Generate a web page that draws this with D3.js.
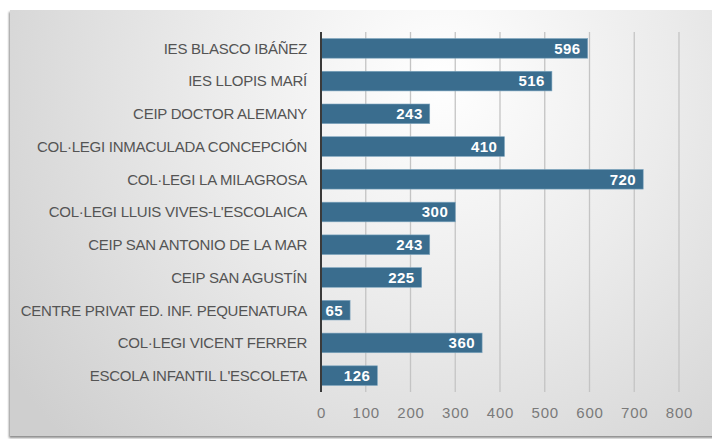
<!DOCTYPE html>
<html><head><meta charset="utf-8">
<script src="https://cdn.jsdelivr.net/npm/d3@7"></script>
<style>html,body{margin:0;padding:0;background:#fff;}svg{display:block;}</style>
</head><body>
<svg id="c" width="712" height="439"></svg>
<script>
const categories = [
  "IES BLASCO IBÁÑEZ",
  "IES LLOPIS MARÍ",
  "CEIP DOCTOR ALEMANY",
  "COL·LEGI INMACULADA CONCEPCIÓN",
  "COL·LEGI LA MILAGROSA",
  "COL·LEGI LLUIS VIVES-L'ESCOLAICA",
  "CEIP SAN ANTONIO DE LA MAR",
  "CEIP SAN AGUSTÍN",
  "CENTRE PRIVAT ED. INF. PEQUENATURA",
  "COL·LEGI VICENT FERRER",
  "ESCOLA INFANTIL L'ESCOLETA"
];
const values = [596, 516, 243, 410, 720, 300, 243, 225, 65, 360, 126];
const xTicks = [0, 100, 200, 300, 400, 500, 600, 700, 800];

const svg = d3.select("#c");
const defs = svg.append("defs");
const rg = defs.append("radialGradient").attr("id","bg")
  .attr("gradientUnits","userSpaceOnUse")
  .attr("cx",440).attr("cy",80).attr("r",520);
rg.append("stop").attr("offset","0").attr("stop-color","#ffffff");
rg.append("stop").attr("offset","0.45").attr("stop-color","#ebebeb");
rg.append("stop").attr("offset","1").attr("stop-color","#cfcfcf");
const f = defs.append("filter").attr("id","sh").attr("x","-5%").attr("y","-5%").attr("width","110%").attr("height","110%");
f.append("feDropShadow").attr("dx",-1).attr("dy",2).attr("stdDeviation",1.2).attr("flood-color","#000").attr("flood-opacity",0.45);

svg.append("rect").attr("x",10).attr("y",10).attr("width",712).attr("height",426)
  .attr("fill","url(#bg)").attr("filter","url(#sh)");

const x = d3.scaleLinear().domain([0, 800]).range([321, 679]);
const y = d3.scaleBand().domain(categories).range([32, 392]).paddingInner(0.4).paddingOuter(0.2);

// grid
svg.append("g").selectAll("line").data(xTicks.slice(1)).join("line")
  .attr("x1", d => x(d)).attr("x2", d => x(d))
  .attr("y1", 32).attr("y2", 392)
  .attr("stroke", "#c4c4c4").attr("stroke-width", 1.3);

// bars
svg.append("g").selectAll("rect").data(values).join("rect")
  .attr("x", x(0)).attr("y", (d,i) => y(categories[i]))
  .attr("width", d => x(d) - x(0)).attr("height", y.bandwidth())
  .attr("fill", "#3a6d8e").attr("stroke","#7fa6bf").attr("stroke-width",0.6);

// value labels
svg.append("g").selectAll("text").data(values).join("text")
  .attr("x", d => x(d) - 7).attr("y", (d,i) => y(categories[i]) + y.bandwidth()/2)
  .attr("dy","0.36em").attr("text-anchor","end")
  .attr("fill","#fff").attr("font-family","Liberation Sans, Arial, sans-serif")
  .attr("font-weight","bold").attr("font-size","15px").attr("letter-spacing","0.5px")
  .text(d => d);

// y axis line
svg.append("line").attr("x1", x(0)).attr("x2", x(0)).attr("y1", 32).attr("y2", 392)
  .attr("stroke","#3a3a3a").attr("stroke-width",2);

// category labels
svg.append("g").selectAll("text").data(categories).join("text")
  .attr("x", 307).attr("y", d => y(d) + y.bandwidth()/2)
  .attr("dy","0.36em").attr("text-anchor","end")
  .attr("fill","#545454").attr("font-family","Liberation Sans, Arial, sans-serif")
  .attr("font-size","15px").attr("letter-spacing","-0.25px")
  .text(d => d);

// x tick labels
const xAxis = d3.axisBottom(x).tickValues(xTicks).tickSize(0).tickPadding(0);
const gx = svg.append("g").attr("transform","translate(0,407)").call(xAxis);
gx.select(".domain").remove();
gx.selectAll("text").attr("fill","#7a7a7a").attr("font-family","Liberation Sans, Arial, sans-serif")
  .attr("font-size","15px").attr("letter-spacing","0.8px").attr("dy","0.71em");
</script>
</body></html>
